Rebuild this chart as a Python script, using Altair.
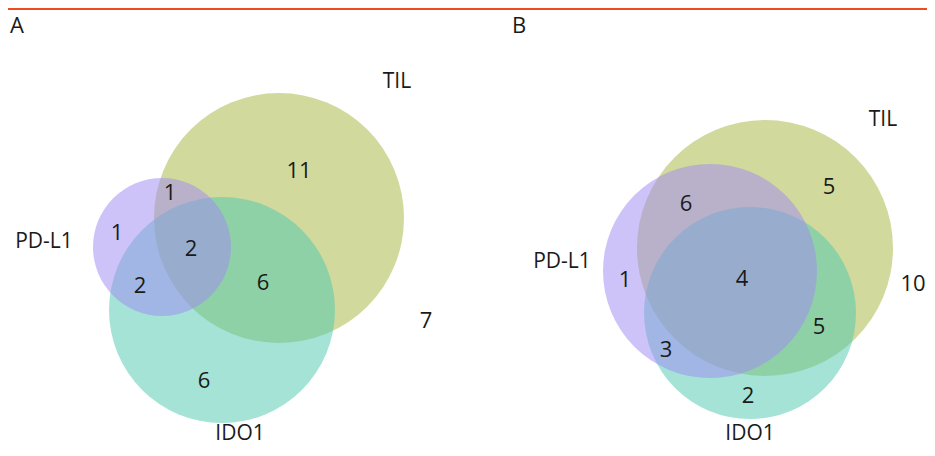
import altair as alt
import pandas as pd

# Venn circles (reference pixel coordinates): panel, set, centre x, centre y, radius
circle_panel = ["A", "A", "A", "B", "B", "B"]
circle_set = ["TIL", "IDO1", "PD-L1", "TIL", "IDO1", "PD-L1"]
circle_cx = [279, 222, 162, 765, 750, 710]
circle_cy = [218, 310, 247, 248, 313, 271]
circle_r = [125, 113, 69, 128, 106, 107]

# Region counts
count_labels = ["11", "1", "1", "2", "2", "6", "6", "7",
                "5", "6", "1", "4", "5", "3", "2", "10"]
count_x = [299, 170, 117, 191, 140, 263, 204, 426,
           829, 686, 625, 742, 819, 666, 748, 913]
count_y = [171, 193, 233, 249, 286, 283, 381, 321,
           187, 204, 280, 279, 327, 350, 396, 284]

# Set names
set_labels = ["TIL", "PD-L1", "IDO1", "TIL", "PD-L1", "IDO1"]
set_x = [397, 44, 240, 883, 562, 750]
set_y = [82, 242, 434, 120, 262, 434]

# Panel letters
panel_labels = ["A", "B"]
panel_x = [17, 519]
panel_y = [26, 26]

colors = {"TIL": "#a9b741", "PD-L1": "#a18cf3", "IDO1": "#50c9b0"}

circles = pd.DataFrame({
    "panel": circle_panel, "set": circle_set,
    "cx": circle_cx, "cy": circle_cy, "r": circle_r,
})
circles["size"] = 4 * circles["r"] ** 2
circles["order"] = range(len(circles))

counts = pd.DataFrame({"label": count_labels, "x": count_x, "y": count_y})
sets = pd.DataFrame({"label": set_labels, "x": set_x, "y": set_y})
panels = pd.DataFrame({"label": panel_labels, "x": panel_x, "y": panel_y})

W, H = 919, 440
xs = alt.Scale(domain=[8, 8 + W], nice=False, zero=False)
ys = alt.Scale(domain=[8 + H, 8], nice=False, zero=False)

base_x = lambda f: alt.X(f, type="quantitative", scale=xs, axis=None)
base_y = lambda f: alt.Y(f, type="quantitative", scale=ys, axis=None)

circ = alt.Chart(circles).mark_circle(opacity=0.52, stroke=None).encode(
    x=base_x("cx"), y=base_y("cy"),
    size=alt.Size("size:Q", scale=None, legend=None),
    color=alt.Color("set:N", scale=alt.Scale(domain=list(colors.keys()),
                                             range=list(colors.values())), legend=None),
    order=alt.Order("order:Q"),
)

font = "Open Sans"
num = alt.Chart(counts).mark_text(font=font, fontSize=22, color="#1a1a1a").encode(
    x=base_x("x"), y=base_y("y"), text="label:N")
lab = alt.Chart(sets).mark_text(font=font, fontSize=21, color="#1a1a1a").encode(
    x=base_x("x"), y=base_y("y"), text="label:N")
pan = alt.Chart(panels).mark_text(font=font, fontSize=22, color="#1a1a1a").encode(
    x=base_x("x"), y=base_y("y"), text="label:N")

top = alt.Chart(pd.DataFrame({"x": [8], "x2": [8 + W], "y": [9]})).mark_rule(
    color="#ef4b1e", strokeWidth=2).encode(
    x=base_x("x"), x2="x2:Q", y=base_y("y"))

chart = alt.layer(circ, top, num, lab, pan).properties(
    width=W, height=H, padding=0, autosize="none"
).configure_view(stroke=None)

chart.save("out.html", embed_options={"renderer": "svg", "actions": False})
